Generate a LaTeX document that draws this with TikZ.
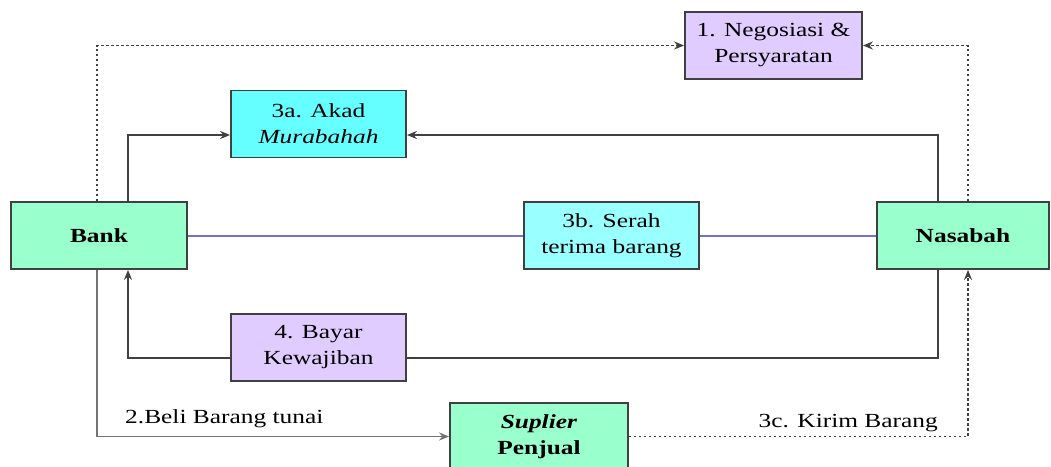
\documentclass[tikz,border=0pt]{standalone}
\usepackage{fontspec}
\setmainfont{Liberation Serif}[FakeStretch=1.27]
\usetikzlibrary{arrows.meta}
\definecolor{lav}{HTML}{E1CCFF}
\definecolor{cyanA}{HTML}{66FFFF}
\definecolor{cyanB}{HTML}{99FFFF}
\definecolor{mint}{HTML}{99FFCC}
\definecolor{blueline}{HTML}{7272D0}
\tikzset{
  box/.style={draw=black!75, line width=1.8pt, minimum height=67pt, inner sep=0pt, align=center,
    font=\fontsize{20}{26}\selectfont},
  conn/.style={draw=black!75, line width=1.9pt},
  tip/.style={-{Stealth[length=10pt,width=8pt]}},
  dots/.style={draw=black!75, line width=1.6pt, dash pattern=on 2.5pt off 2.5pt},
  lbl/.style={font=\fontsize{20}{26}\selectfont, inner sep=0pt}
}
\begin{document}
\begin{tikzpicture}[x=1pt,y=-1pt]
\useasboundingbox (0,0) rectangle (1051,466);
\clip (0,0) rectangle (1051,466);
\node[box, fill=lav, minimum width=177pt] (neg) at (773.5,45.5) {1. Negosiasi \&\\Persyaratan};
\node[box, fill=cyanA, minimum width=175pt] (akad) at (318.5,124) {3a. Akad\\\textit{Murabahah}};
\node[box, fill=mint, minimum width=176pt] (bank) at (99,235.5) {\textbf{Bank}};
\node[box, fill=cyanB, minimum width=175pt] (serah) at (611.5,235.5) {3b. Serah\\terima barang};
\node[box, fill=mint, minimum width=172pt] (nas) at (963,235.5) {\textbf{Nasabah}};
\node[box, fill=lav, minimum width=175pt] (bayar) at (318.5,347.5) {4. Bayar\\Kewajiban};
\node[box, fill=mint, minimum width=178pt] (sup) at (539,436.5) {\textbf{\textit{Suplier}}\\\textbf{Penjual}};
% 1. negotiation (dotted)
\draw[dots, tip] ([xshift=-2pt]bank.north) |- (neg.west);
\draw[dots, tip] ([xshift=5pt]nas.north) |- (neg.east);
% 3a. akad
\draw[conn, tip] ([xshift=29pt]bank.north) |- ([yshift=-11pt]akad.west);
\draw[conn, tip] ([xshift=-25pt]nas.north) |- ([yshift=-11pt]akad.east);
% 3b. serah terima
\draw[blueline, line width=2pt] (bank.east) -- (serah.west);
\draw[blueline, line width=2pt] (serah.east) -- (nas.west);
% 4. bayar
\draw[conn] ([xshift=-25pt]nas.south) |- ([yshift=-10.5pt]bayar.east);
\draw[conn, tip] ([yshift=-10.5pt]bayar.west) -| ([xshift=29pt]bank.south);
% 2. beli
\draw[draw=black!55, line width=1.9pt, tip] ([xshift=-2pt]bank.south) |- (sup.west);
\node[lbl, anchor=base west] (beli) at (125,423) {2.Beli Barang tunai};
% 3c. kirim
\draw[dots, tip] (sup.east) -| ([xshift=5pt]nas.south);
\node[lbl, anchor=base east] (kirim) at (938,427) {3c. Kirim Barang};
\end{tikzpicture}
\end{document}
